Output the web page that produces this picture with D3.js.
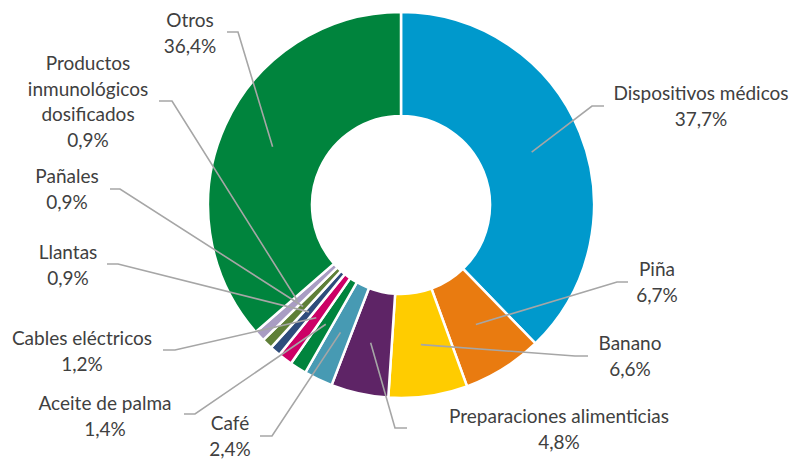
<!DOCTYPE html>
<html>
<head>
<meta charset="utf-8">
<script src="https://cdn.jsdelivr.net/npm/d3@7"></script>
<style>
  html, body { margin: 0; padding: 0; background: #ffffff; }
  svg { display: block; }
</style>
</head>
<body>
<svg id="chart" width="793" height="460"></svg>
<script>
// ---- data ----
const categories = [
  "Dispositivos médicos", "Piña", "Banano", "Preparaciones alimenticias",
  "Café", "Aceite de palma", "Cables eléctricos", "Llantas", "Pañales",
  "Productos inmunológicos dosificados", "Otros"
];
const values = [37.7, 6.7, 6.6, 4.8, 2.4, 1.4, 1.2, 0.9, 0.9, 0.9, 36.4];
const valueLabels = ["37,7%", "6,7%", "6,6%", "4,8%", "2,4%", "1,4%", "1,2%", "0,9%", "0,9%", "0,9%", "36,4%"];
const colors = ["#0099CC", "#E97B10", "#FFCC00", "#5E2466", "#479AB3", "#00843D",
                "#CC0066", "#2E4C7C", "#5F7F38", "#A99DC3", "#00843D"];
// label text wrapping (lines of the category name)
const nameLines = [
  ["Dispositivos médicos"], ["Piña"], ["Banano"], ["Preparaciones alimenticias"],
  ["Café"], ["Aceite de palma"], ["Cables eléctricos"], ["Llantas"], ["Pañales"],
  ["Productos", "inmunológicos", "dosificados"], ["Otros"]
];
// ---- layout (label anchor: text center x, first baseline y; leader elbow) ----
const labelPos = [
  [701, 100], [657, 276], [630, 350], [559, 423], [230, 430], [105, 410],
  [82, 345], [68, 259], [67, 183], [88, 70], [190, 27]
];
const leaderElbow = [
  [[604, 106], [592, 106]], [[628, 282], [617, 282]], [[588, 356], [575, 356]],
  [[407, 428], [395, 428]], [[260, 436], [272, 436]], [[184, 414], [195, 414]],
  [[163, 350], [175, 350]], [[107, 264], [118, 264]], [[110, 189], [120, 189]],
  [[159, 101], [172, 101]], [[227, 32], [238, 32]]
];

const cx = 401, cy = 205, outerR = 193, innerR = 89;
const lineH = 25.5;

const svg = d3.select("#chart");
const g = svg.append("g").attr("transform", `translate(${cx},${cy})`);

const data = categories.map((c, i) => ({ name: c, value: values[i], i }));
const pie = d3.pie().value(d => d.value).sort(null).startAngle(0).endAngle(2 * Math.PI);
const arcs = pie(data);
const arc = d3.arc().innerRadius(innerR).outerRadius(outerR);

g.selectAll("path.slice")
  .data(arcs)
  .join("path")
  .attr("class", "slice")
  .attr("d", arc)
  .attr("fill", d => colors[d.data.i])
  .attr("stroke", "#ffffff")
  .attr("stroke-width", 2.5)
  .attr("stroke-linejoin", "miter");

// leader lines
g.selectAll("polyline.leader")
  .data(arcs)
  .join("polyline")
  .attr("class", "leader")
  .attr("fill", "none")
  .attr("stroke", "#A6A6A6")
  .attr("stroke-width", 1.6)
  .attr("points", d => {
    const c = arc.centroid(d);
    const e = leaderElbow[d.data.i];
    return [[e[0][0] - cx, e[0][1] - cy], [e[1][0] - cx, e[1][1] - cy], c]
      .map(p => p.join(",")).join(" ");
  });

// labels
const lbl = svg.selectAll("text.lbl")
  .data(arcs)
  .join("text")
  .attr("class", "lbl")
  .attr("text-anchor", "middle")
  .attr("font-family", "Lato, 'Open Sans', sans-serif")
  .attr("font-size", 19)
  .attr("fill", "#404040");

lbl.each(function(d) {
  const t = d3.select(this);
  const [x, y] = labelPos[d.data.i];
  const lines = nameLines[d.data.i].concat([valueLabels[d.data.i]]);
  lines.forEach((s, k) => {
    t.append("tspan").attr("x", x).attr("y", y + k * lineH).text(s);
  });
});
</script>
</body>
</html>
